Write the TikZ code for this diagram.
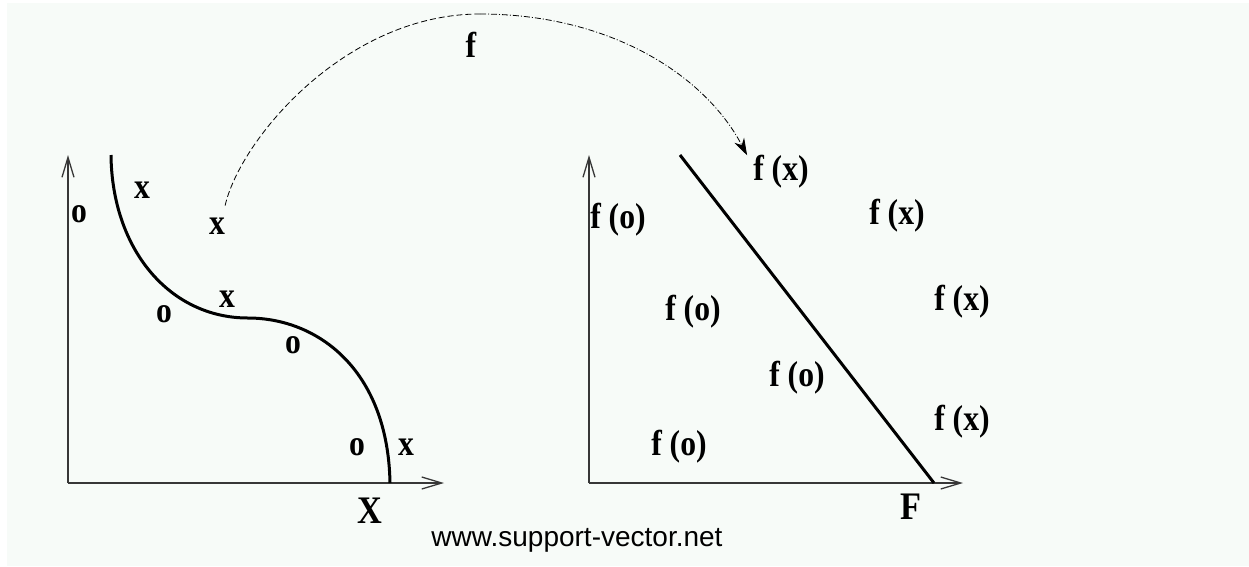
\documentclass[tikz,border=0pt]{standalone}
\usepackage{fontspec}
\setmainfont{Liberation Serif}
\setsansfont{Liberation Sans}
\newfontfamily\lblfont[FakeStretch=0.88]{Liberation Serif}
\usetikzlibrary{arrows.meta}
\definecolor{paper}{RGB}{247,251,248}
\definecolor{axisgray}{RGB}{55,55,55}

\begin{document}
\begin{tikzpicture}[x=1pt,y=-1pt,inner sep=0pt,
  lbl/.style={font=\lblfont\fontsize{36}{40}\selectfont\bfseries},
  big/.style={font=\lblfont\fontsize{39}{44}\selectfont\bfseries},
  axis/.style={axisgray,line width=1.3pt,-{Straight Barb[length=20pt,width=12pt]}},
  bound/.style={line width=3pt}]
\useasboundingbox (0,0) rectangle (1249,566);
\fill[white] (0,0) rectangle (1249,566);
\fill[paper] (7,3) rectangle (1249,566);

% input space
\coordinate (o1) at (68, 483);
\coordinate (y1) at (68, 155);
\coordinate (x1) at (444, 483);
\draw[axis] (o1) -- (y1);
\draw[axis] (o1) -- (x1);
\coordinate (c1) at (111, 155);
\coordinate (c2) at (248, 318);
\coordinate (c3) at (390, 483);
\draw[bound] (c1) .. controls (112, 250) and (170, 318) .. (c2)
  .. controls (318, 318) and (388, 370) .. (c3);
\node[lbl] (oa) at (79, 214) {o};
\node[lbl] (xb) at (142, 190) {x};
\node[lbl] (xa) at (217, 226) {x};
\node[lbl] (ob) at (164, 314) {o};
\node[lbl] (xc) at (227, 299) {x};
\node[lbl] (oc) at (293, 345) {o};
\node[lbl] (od) at (357, 447) {o};
\node[lbl] (xd) at (406, 447) {x};
\node[big] (X) at (370, 511) {X};

% feature space
\coordinate (o2) at (589, 483);
\coordinate (y2) at (589, 155);
\coordinate (x2) at (963, 483);
\draw[axis] (o2) -- (y2);
\draw[axis] (o2) -- (x2);
\coordinate (h1) at (680, 155);
\coordinate (h2) at (934, 483);
\draw[bound] (h1) -- (h2);
\node[lbl] (fx1) at (781, 172) {f (x)};
\node[lbl] (fo1) at (618, 220) {f (o)};
\node[lbl] (fx2) at (897, 216) {f (x)};
\node[lbl] (fo2) at (693, 312) {f (o)};
\node[lbl] (fx3) at (962, 302) {f (x)};
\node[lbl] (fo3) at (797, 378) {f (o)};
\node[lbl] (fx4) at (962, 422) {f (x)};
\node[lbl] (fo4) at (679, 447) {f (o)};
\node[big] (F) at (911, 507) {F};

% the map
\coordinate (top) at (480, 14);
\draw[line width=0.8pt,dash pattern=on 6pt off 3pt] ([yshift=12pt]xa.north east)
  .. controls (240, 140) and (345, 14) .. (top);
\draw[line width=0.8pt,dash pattern=on 6pt off 2pt on 1pt off 2pt,-{Stealth[length=17pt,width=11pt]}]
  (top) .. controls (610, 14) and (705, 75) .. ([xshift=-6pt]fx1.north west);
\node[lbl] (f) at (471, 45) {f};

\node[font=\sffamily\fontsize{28}{32}\selectfont,anchor=base] (web) at (577, 546) {www.support-vector.net};
\end{tikzpicture}
\end{document}
